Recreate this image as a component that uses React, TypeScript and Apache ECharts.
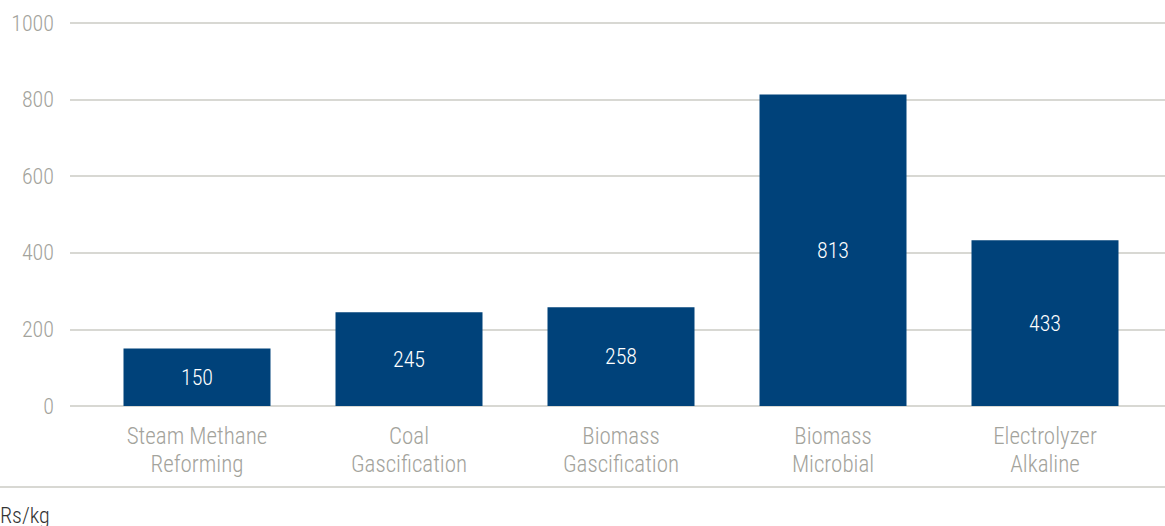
import React, { useEffect, useRef } from "react";
import * as echarts from "echarts";

// Hydrogen production cost by pathway (Rs/kg)
const categories = [
  "Steam Methane\nReforming",
  "Coal\nGascification",
  "Biomass\nGascification",
  "Biomass\nMicrobial",
  "Electrolyzer\nAlkaline",
];
const costs = [150, 245, 258, 813, 433];
const yTicks = { min: 0, max: 1000, interval: 200 };
const unitLabel = "Rs/kg";

const FONT = "'Roboto Condensed', 'Liberation Sans Narrow', 'DejaVu Sans Condensed', sans-serif";
const BAR = "#00427a";
const GRID_LINE = "#cbcbc4";
const MUTED = "#a3a39c";

export default function App() {
  const ref = useRef<HTMLDivElement>(null);

  useEffect(() => {
    if (!ref.current) return;
    const chart = echarts.init(ref.current, undefined, { renderer: "svg" });
    chart.setOption({
      animation: false,
      backgroundColor: "#ffffff",
      textStyle: { fontFamily: FONT, fontWeight: 300 },
      grid: [
        // full-width grid carrying the value axis and its gridlines
        { left: 70, right: 0, top: 23, bottom: 120, containLabel: false },
        // inner grid holding the category bars
        { left: 91, right: 14, top: 23, bottom: 120, containLabel: false },
      ],
      xAxis: [
        { type: "value", gridIndex: 0, show: false, min: 0, max: 1 },
        {
          type: "category",
          gridIndex: 1,
          data: categories,
          axisLine: { show: false },
          axisTick: { show: false },
          axisLabel: {
            color: MUTED,
            fontSize: 23,
            lineHeight: 28,
            margin: 16,
            fontFamily: FONT,
            fontWeight: 300,
            interval: 0,
          },
        },
      ],
      yAxis: [
        {
          type: "value",
          gridIndex: 0,
          min: yTicks.min,
          max: yTicks.max,
          interval: yTicks.interval,
          axisLine: { show: false },
          axisTick: { show: false },
          axisLabel: {
            color: MUTED,
            fontSize: 22,
            margin: 16,
            fontFamily: FONT,
            fontWeight: 300,
            formatter: (v: number) => String(v),
          },
          splitLine: { lineStyle: { color: GRID_LINE, width: 1.5 } },
        },
        {
          type: "value",
          gridIndex: 1,
          min: yTicks.min,
          max: yTicks.max,
          interval: yTicks.interval,
          show: false,
          splitLine: { show: false },
        },
      ],
      series: [
        {
          type: "bar",
          xAxisIndex: 1,
          yAxisIndex: 1,
          data: costs,
          barWidth: 147,
          itemStyle: { color: BAR },
          label: {
            show: true,
            position: "inside",
            color: "#ffffff",
            fontSize: 22,
            fontFamily: FONT,
            fontWeight: 300,
          },
        },
      ],
      graphic: [
        {
          type: "line",
          shape: { x1: 0, y1: 487, x2: 1165, y2: 487 },
          style: { stroke: GRID_LINE, lineWidth: 1.5 },
        },
        {
          type: "text",
          left: 0,
          top: 504,
          style: {
            text: unitLabel,
            fill: "#333333",
            fontSize: 22,
            fontFamily: FONT,
            fontWeight: 300,
          },
        },
      ],
    });
    return () => chart.dispose();
  }, []);

  return (
    <div
      ref={ref}
      style={{ position: "fixed", left: 0, top: 0, width: 1165, height: 526 }}
    />
  );
}
